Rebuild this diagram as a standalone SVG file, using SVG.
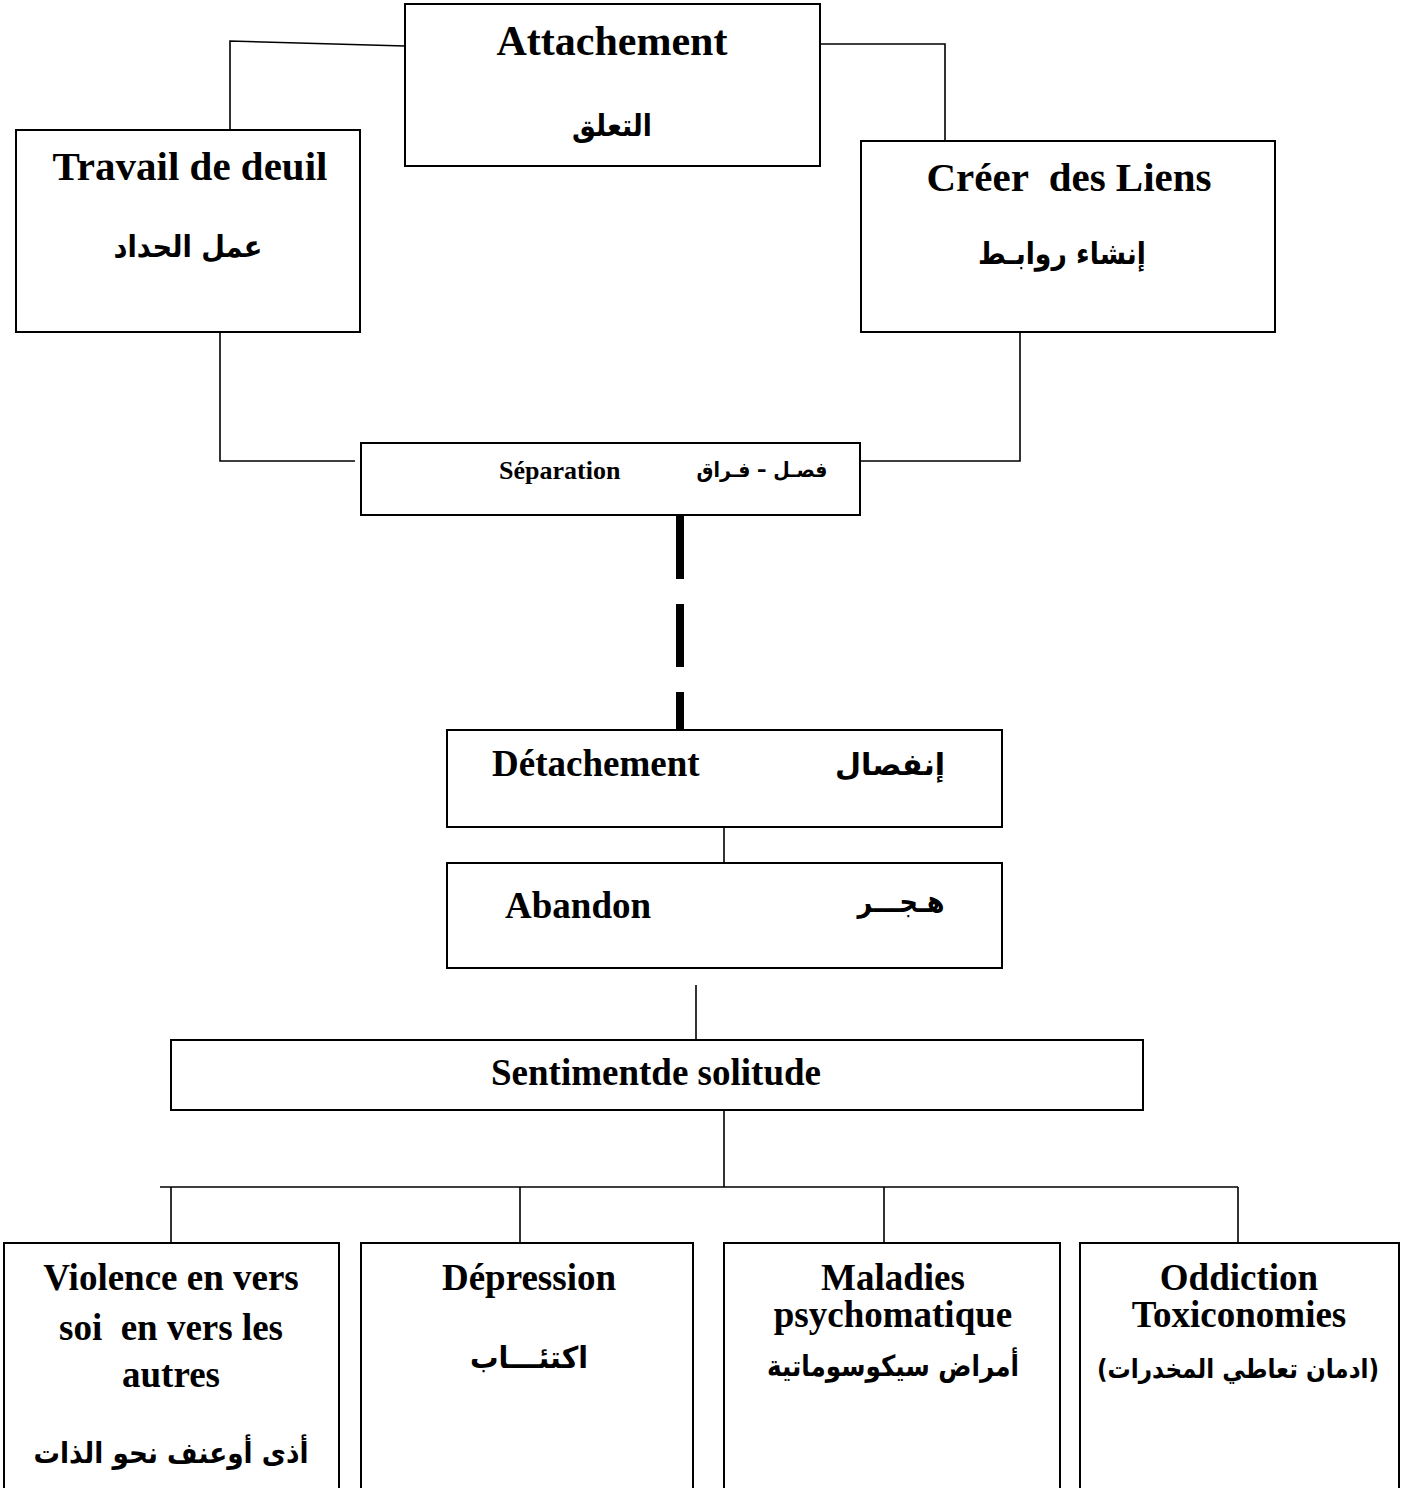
<svg xmlns="http://www.w3.org/2000/svg" width="1413" height="1488" viewBox="0 0 1413 1488">
<style>
.box{fill:#fff;stroke:#000;stroke-width:2}
.con{fill:none;stroke:#000;stroke-width:1.6}
.lat{font-family:"Liberation Serif","Times New Roman",serif;font-weight:bold;fill:#000;white-space:pre}
.ar{font-family:"DejaVu Sans","Noto Sans",sans-serif;font-weight:bold;fill:#000;direction:rtl;unicode-bidi:embed}
.m{text-anchor:middle}
</style>
<rect width="1413" height="1488" fill="#fff"/>
<g id="connectors">
<path class="con" d="M405 46 L230 41 V130"/>
<path class="con" d="M799 44 H945 V155"/>
<path class="con" d="M220 332 V461 H355"/>
<path class="con" d="M1020 332 V461 H861"/>
<path d="M680 516 V579 M680 604 V667 M680 692 V729" fill="none" stroke="#000" stroke-width="8"/>
<path class="con" d="M724 827 V863"/>
<path class="con" d="M696 985 V1040"/>
<path class="con" d="M724 1110 V1187 M160 1187 H1238 M171 1187 V1243 M520 1187 V1243 M884 1187 V1243 M1238 1187 V1243"/>
</g>
<g id="attachement">
<rect class="box" x="405" y="4" width="415" height="162"/>
<text class="lat m" x="612" y="55" font-size="42">Attachement</text>
<text class="ar m" x="612" y="136" font-size="30" textLength="80" lengthAdjust="spacingAndGlyphs">التعلق</text>
</g>
<g id="travail">
<rect class="box" x="16" y="130" width="344" height="202"/>
<text class="lat m" x="190" y="180" font-size="41">Travail de deuil</text>
<text class="ar m" x="188" y="257" font-size="30" textLength="149" lengthAdjust="spacingAndGlyphs">عمل الحداد</text>
</g>
<g id="creer">
<rect class="box" x="861" y="141" width="414" height="191"/>
<text class="lat m" x="1069" y="191" font-size="41">Créer  des Liens</text>
<text class="ar m" x="1062" y="264" font-size="30" textLength="168" lengthAdjust="spacingAndGlyphs">إنشاء روابـط</text>
</g>
<g id="separation">
<rect class="box" x="361" y="443" width="499" height="72"/>
<text class="lat" x="499" y="479" font-size="26">Séparation</text>
<text class="ar m" x="762" y="477" font-size="21" textLength="131" lengthAdjust="spacingAndGlyphs">فصـل – فـراق</text>
</g>
<g id="detachement">
<rect class="box" x="447" y="730" width="555" height="97"/>
<text class="lat" x="492" y="776" font-size="37">Détachement</text>
<text class="ar m" x="890" y="775" font-size="30" textLength="110" lengthAdjust="spacingAndGlyphs">إنفصال</text>
</g>
<g id="abandon">
<rect class="box" x="447" y="863" width="555" height="105"/>
<text class="lat" x="505" y="918" font-size="37">Abandon</text>
<text class="ar m" x="901" y="912" font-size="30" textLength="87" lengthAdjust="spacingAndGlyphs">هـجـــر</text>
</g>
<g id="solitude">
<rect class="box" x="171" y="1040" width="972" height="70"/>
<text class="lat m" x="656" y="1085" font-size="37">Sentimentde solitude</text>
</g>
<g id="violence">
<rect class="box" x="4" y="1243" width="335" height="260"/>
<text class="lat m" x="171" y="1290" font-size="37">Violence en vers</text>
<text class="lat m" x="171" y="1340" font-size="37">soi  en vers les</text>
<text class="lat m" x="171" y="1387" font-size="37">autres</text>
<text class="ar m" x="171" y="1463" font-size="29" textLength="275" lengthAdjust="spacingAndGlyphs">أذى أوعنف نحو الذات</text>
</g>
<g id="depression">
<rect class="box" x="361" y="1243" width="332" height="260"/>
<text class="lat m" x="529" y="1290" font-size="37">Dépression</text>
<text class="ar m" x="529" y="1368" font-size="30" textLength="118" lengthAdjust="spacingAndGlyphs">اكتئـــاب</text>
</g>
<g id="maladies">
<rect class="box" x="724" y="1243" width="336" height="260"/>
<text class="lat m" x="893" y="1290" font-size="37">Maladies</text>
<text class="lat m" x="893" y="1327" font-size="37">psychomatique</text>
<text class="ar m" x="893" y="1376" font-size="29" textLength="252" lengthAdjust="spacingAndGlyphs">أمراض سيكوسوماتية</text>
</g>
<g id="oddiction">
<rect class="box" x="1080" y="1243" width="319" height="260"/>
<text class="lat m" x="1239" y="1290" font-size="37">Oddiction</text>
<text class="lat m" x="1239" y="1327" font-size="37">Toxiconomies</text>
<text class="ar m" x="1238" y="1378" font-size="26" textLength="282" lengthAdjust="spacingAndGlyphs">(ادمان تعاطي المخدرات)</text>
</g>
</svg>
